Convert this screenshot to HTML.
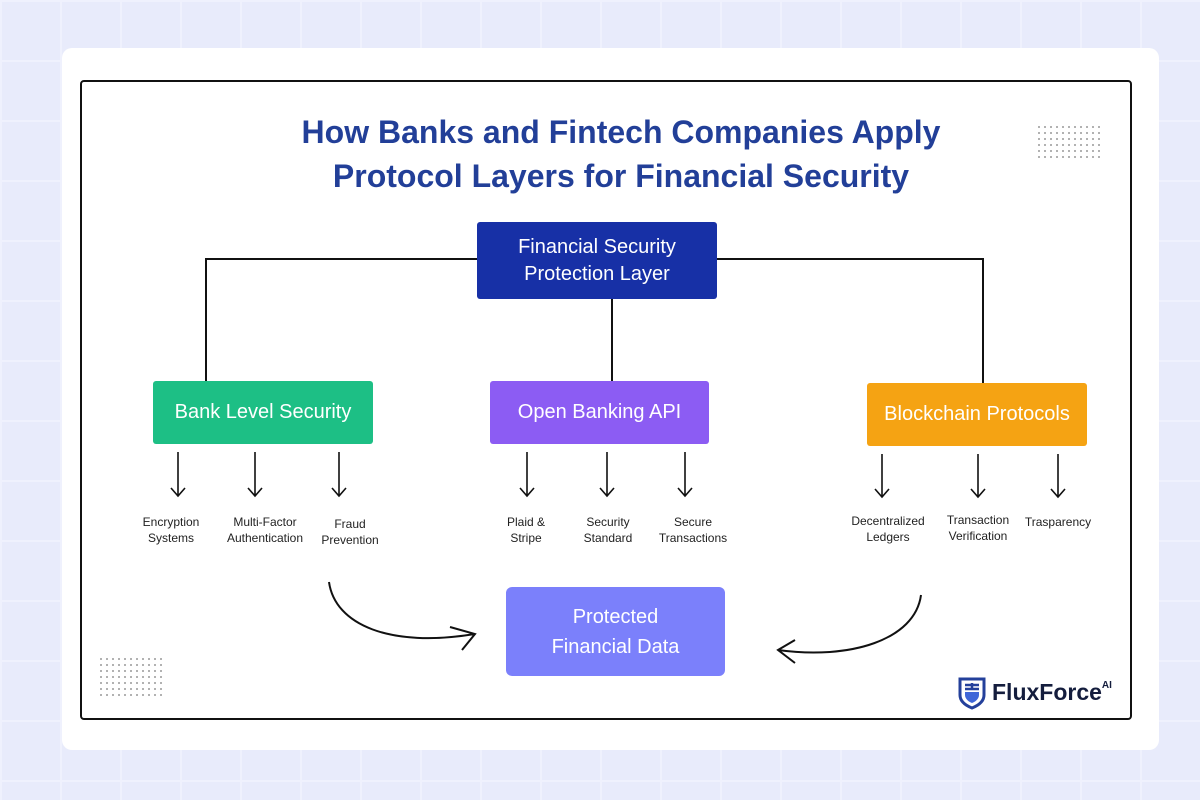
<!DOCTYPE html>
<html><head><style>
body{margin:0;width:1200px;height:800px;overflow:hidden;font-family:"Liberation Sans",sans-serif;background:#e8ebfb;position:relative}
.grid{position:absolute;inset:0;background-image:linear-gradient(#eff1fd 2px,transparent 2px),linear-gradient(90deg,#eff1fd 2px,transparent 2px);background-size:60px 60px}
.card{position:absolute;left:62px;top:48px;width:1097px;height:702px;background:#fff;border-radius:10px}
.frame{position:absolute;left:80px;top:80px;width:1048px;height:636px;border:2px solid #111;border-radius:4px}
.t{position:absolute;left:0;width:1242px;text-align:center;color:#223f98;font-weight:bold;font-size:32px}
.box{position:absolute;color:#fff;display:flex;align-items:center;justify-content:center;text-align:center;border-radius:3px}
.lbl{position:absolute;font-size:12px;color:#222;text-align:center;width:110px;line-height:16px}
.dots{position:absolute;background-image:radial-gradient(#999 0.8px,transparent 1px);background-size:6px 6px}
</style></head><body>
<div class="grid"></div>
<div class="card"></div>
<div class="frame"></div>
<div class="t" style="top:114px">How Banks and Fintech Companies Apply</div>
<div class="t" style="top:158px">Protocol Layers for Financial Security</div>
<div class="dots" style="left:1036px;top:124px;width:66px;height:38px"></div>
<div class="dots" style="left:98px;top:656px;width:66px;height:40px"></div>
<svg width="1200" height="800" style="position:absolute;left:0;top:0">
<g stroke="#111" stroke-width="2" fill="none">
<path d="M206 381V259H477M717 259H983V383M612 299V381"/>
<g stroke-width="1.6">
<path d="M178 452V496M171 488L178 496L185 488M255 452V496M248 488L255 496L262 488M339 452V496M332 488L339 496L346 488"/>
<path d="M527 452V496M520 488L527 496L534 488M607 452V496M600 488L607 496L614 488M685 452V496M678 488L685 496L692 488"/>
<path d="M882 454V497M875 489L882 497L889 489M978 454V497M971 489L978 497L985 489M1058 454V497M1051 489L1058 497L1065 489"/>
</g>
<path d="M329 582C335 625 390 648 475 634M450 627L475 634L462 650" stroke-width="2"/>
<path d="M921 595C915 640 850 660 778 650M795 640L778 650L795 663" stroke-width="2"/>
</g>
</svg>
<div class="box" style="left:477px;top:222px;width:240px;height:77px;background:#1730a6;font-size:20px;line-height:27px">Financial Security<br>Protection Layer</div>
<div class="box" style="left:153px;top:381px;width:220px;height:63px;background:#1dbf85;font-size:20px">Bank Level Security</div>
<div class="box" style="left:490px;top:381px;width:219px;height:63px;background:#8c5cf3;font-size:20px">Open Banking API</div>
<div class="box" style="left:867px;top:383px;width:220px;height:63px;background:#f5a313;font-size:20px">Blockchain Protocols</div>
<div class="box" style="left:506px;top:587px;width:219px;height:89px;background:#7b80fb;font-size:20px;line-height:30px;border-radius:6px">Protected<br>Financial Data</div>
<div class="lbl" style="left:116px;top:514px">Encryption<br>Systems</div>
<div class="lbl" style="left:210px;top:514px">Multi-Factor<br>Authentication</div>
<div class="lbl" style="left:295px;top:516px">Fraud<br>Prevention</div>
<div class="lbl" style="left:471px;top:514px">Plaid &amp;<br>Stripe</div>
<div class="lbl" style="left:553px;top:514px">Security<br>Standard</div>
<div class="lbl" style="left:638px;top:514px">Secure<br>Transactions</div>
<div class="lbl" style="left:833px;top:513px">Decentralized<br>Ledgers</div>
<div class="lbl" style="left:923px;top:512px">Transaction<br>Verification</div>
<div class="lbl" style="left:1003px;top:514px">Trasparency</div>
<svg width="30" height="34" style="position:absolute;left:957px;top:676px" viewBox="0 0 30 34">
<path d="M3 3H27V19C27 26 20 30 15 32C10 30 3 26 3 19Z" fill="none" stroke="#24409b" stroke-width="3"/>
<path d="M8 16H22V19C22 23 18 26 15 27C12 26 8 23 8 19Z" fill="#3f66d8"/>
<path d="M8 9H22M15 7V14M8 13H22" stroke="#24409b" stroke-width="2.5"/>
</svg>
<div style="position:absolute;left:992px;top:679px;font-weight:bold;font-size:23px;color:#141d3d">FluxForce<sup style="font-size:10px;vertical-align:12px">AI</sup></div>
</body></html>
